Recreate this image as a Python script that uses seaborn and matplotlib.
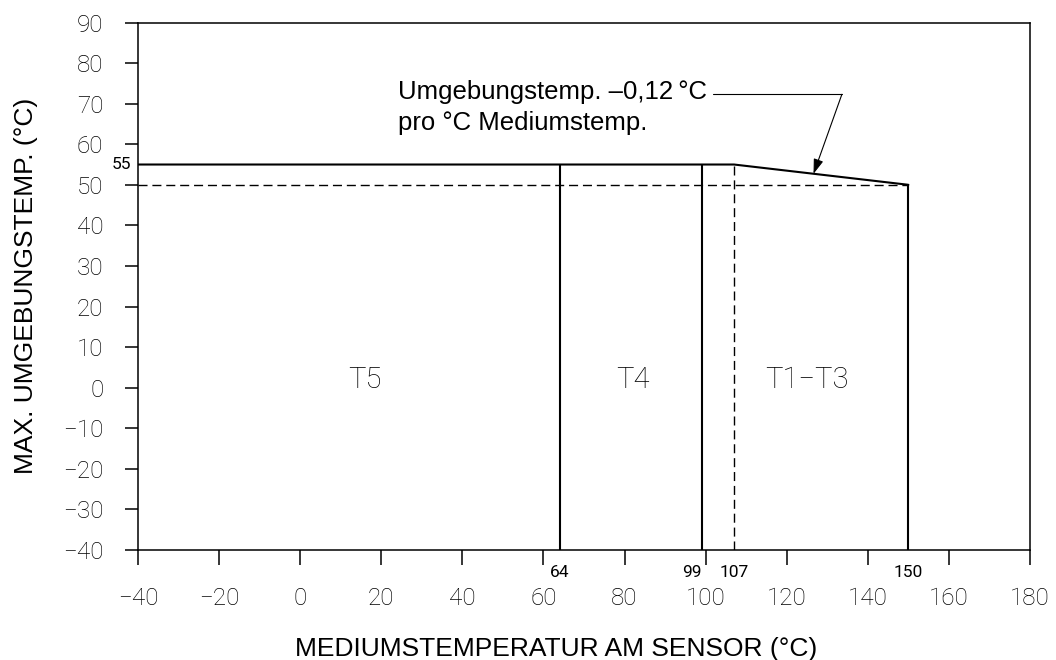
"""
Temperature class diagram: max. ambient temperature vs. medium temperature
at the sensor (T5 / T4 / T1-T3 zones).

Output: out.png (1056x660)
"""

import pandas as pd
import matplotlib
matplotlib.use("Agg")
import matplotlib.pyplot as plt
import seaborn as sns

# ---- data ------------------------------------------------------------------
x_ticks = list(range(-40, 181, 20))
y_ticks = list(range(-40, 91, 10))

# upper limit of the ambient temperature (flat, then derating -0.12 K/K)
limit_x = [-40, 107, 150]
limit_y = [55, 55, 50]

# vertical zone boundaries and the height they reach
zone_bounds = [64, 99, 150]
zone_tops = [55, 55, 50]

# dashed reference lines
ref_ambient = 50
ref_ambient_end = 150
ref_medium = 107
ref_medium_top = 55

marked_x = [64, 99, 107, 150]
marked_y = [55]

zone_names = ["T5", "T4", "T1\u2212T3"]
zone_x = [16, 82, 125]
zone_y = [0, 0, 0]

note_text = "Umgebungstemp. \u20130,12\u2009\u00b0C\npro \u00b0C Mediumstemp."
note_x, note_y = 24, 63.5   # baseline of the last line
leader_x = [101.8, 133.6]
leader_y = [72.3, 72.3]
arrow_tip = (126.6, 52.7)

X_LABEL = "MEDIUMSTEMPERATUR AM SENSOR (\u00b0C)"
Y_LABEL = "MAX. UMGEBUNGSTEMP. (\u00b0C)"


def main():
    sns.set_theme(style="ticks")
    plt.rcParams["font.family"] = ["Roboto", "DejaVu Sans"]
    plt.rcParams["text.color"] = "black"
    label_font = ["Liberation Sans", "DejaVu Sans"]

    # solid segments: limit line + zone boundaries
    rows = []
    for x, y in zip(limit_x, limit_y):
        rows.append({"seg": "limit", "x": x, "y": y})
    for b, top in zip(zone_bounds, zone_tops):
        rows.append({"seg": f"b{b}", "x": b, "y": y_ticks[0]})
        rows.append({"seg": f"b{b}", "x": b, "y": top})
    solid = pd.DataFrame(rows)

    dashed = pd.DataFrame({
        "seg": ["h", "h", "v", "v"],
        "x": [x_ticks[0], ref_ambient_end, ref_medium, ref_medium],
        "y": [ref_ambient, ref_ambient, y_ticks[0], ref_medium_top],
    })

    fig = plt.figure(figsize=(10.56, 6.6), dpi=100)
    ax = fig.add_axes([0.1307, 0.1667, 0.8447, 0.7992])

    sns.lineplot(data=dashed, x="x", y="y", units="seg", estimator=None,
                 sort=False, color="black", lw=1.0,
                 linestyle=(0, (6.5, 3.5)), ax=ax)
    sns.lineplot(data=solid, x="x", y="y", units="seg", estimator=None,
                 sort=False, color="black", lw=1.5, ax=ax)

    ax.set_xlim(x_ticks[0], x_ticks[-1])
    ax.set_ylim(y_ticks[0], y_ticks[-1])
    ax.set_xticks(x_ticks)
    ax.set_yticks(y_ticks)

    for side in ["top", "right", "bottom", "left"]:
        ax.spines[side].set_visible(True)
        ax.spines[side].set_linewidth(1.1)
        ax.spines[side].set_color("black")

    ax.tick_params(axis="x", length=10.8, width=1.1, pad=16, colors="black")
    ax.tick_params(axis="y", length=9.4, width=1.1, pad=15.5, colors="black")
    for lab in ax.get_xticklabels() + ax.get_yticklabels():
        lab.set_fontsize(17.5)
        lab.set_fontweight("light")
        lab.set_color("black")

    ax.set_xlabel(X_LABEL, fontsize=19, family=label_font, color="black")
    ax.set_ylabel(Y_LABEL, fontsize=19, family=label_font, color="black")
    ax.xaxis.set_label_coords(0.469, -0.165)
    ax.yaxis.set_label_coords(-0.112, 0.5)

    # zone names
    for name, zx, zy in zip(zone_names, zone_x, zone_y):
        ax.text(zx, zy, name, fontsize=21, fontweight="light",
                ha="center", va="baseline", color="black")

    # small value marks next to the axes
    x_offsets = [0, -7, 0, 0]
    for v, dx in zip(marked_x, x_offsets):
        ax.annotate(str(v), xy=(v, y_ticks[0]), xytext=(dx, -16.5),
                    textcoords="offset points", ha="center", va="center",
                    fontsize=12.5, color="black")
    for v in marked_y:
        ax.annotate(str(v), xy=(x_ticks[0], v), xytext=(-4.7, 0),
                    textcoords="offset points", ha="right", va="center",
                    fontsize=12.5, color="black")

    # note with leader line and arrow onto the derating line
    ax.text(note_x, note_y, note_text, fontsize=18.5, family=label_font,
            ha="left", va="baseline", linespacing=1.37, color="black")
    ax.plot(leader_x, leader_y, color="black", lw=0.8)
    ax.annotate("", xy=arrow_tip, xytext=(leader_x[1], leader_y[1]),
                arrowprops=dict(arrowstyle="-|>,head_length=0.9,head_width=0.3",
                                color="black", lw=0.8, mutation_scale=10,
                                shrinkA=0, shrinkB=0))

    fig.savefig("out.png", dpi=100)
    plt.close(fig)


if __name__ == "__main__":
    main()
